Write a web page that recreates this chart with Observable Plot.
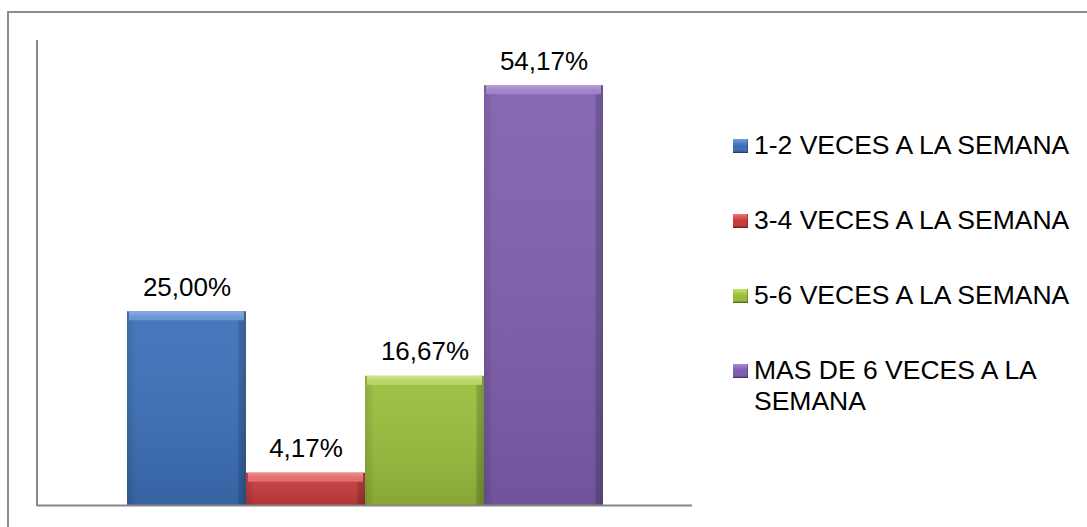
<!DOCTYPE html>
<html>
<head>
<meta charset="utf-8">
<script src="https://cdn.jsdelivr.net/npm/d3@7"></script>
<script src="https://cdn.jsdelivr.net/npm/@observablehq/plot@0.6"></script>
<style>
  html, body { margin: 0; padding: 0; background: #fff; overflow: hidden; }
  #wrap { position: relative; width: 1087px; height: 527px; font-family: "Liberation Sans", Arial, sans-serif; }
  #frame { position: absolute; left: 7px; top: 11px; width: 1200px; height: 700px; border: 2px solid #8c8c8c; box-sizing: border-box; }
  #chart { position: absolute; left: 0; top: 0; }
  #legend { position: absolute; left: 733px; top: 0; width: 350px; }
  .item { position: absolute; left: 0; display: flex; align-items: flex-start; }
  .sw { width: 15px; height: 14px; margin-right: 6px; flex: none; box-sizing: border-box; }
  .lab { font-size: 26.5px; line-height: 31px; color: #000; width: 330px; }
</style>
</head>
<body>
<div id="wrap">
  <div id="frame"></div>
  <div id="chart"></div>
  <div id="legend"></div>
</div>
<script>
const categories = ["1-2 VECES A LA SEMANA", "3-4 VECES A LA SEMANA", "5-6 VECES A LA SEMANA", "MAS DE 6 VECES A LA SEMANA"];
const values = [25.00, 4.17, 16.67, 54.17];
const labels = ["25,00%", "4,17%", "16,67%", "54,17%"];
const colors = ["#3c70b8", "#c63b3b", "#9bbd3c", "#7f5eae"];
const lightColors = ["#6f9fe0", "#f27272", "#c6e46e", "#a98bd3"];
const legendLines = [["1-2 VECES A LA SEMANA"], ["3-4 VECES A LA SEMANA"], ["5-6 VECES A LA SEMANA"], ["MAS DE 6 VECES A LA", "SEMANA"]];

const data = categories.map((c, i) => ({cat: c, value: values[i], label: labels[i], color: colors[i], light: lightColors[i], idx: i}));

const plot = Plot.plot({
  width: 1087,
  height: 527,
  marginLeft: 37,
  marginRight: 395,
  marginTop: 40,
  marginBottom: 22,
  style: {background: "transparent", fontFamily: "'Liberation Sans', Arial, sans-serif"},
  x: {domain: categories, paddingInner: 0, paddingOuter: 0.746, axis: null},
  y: {domain: [0, 60], axis: null},
  marks: [
    Plot.barY(data, {x: "cat", y: "value", fill: "color"}),
    Plot.barY(data, {x: "cat", y: "value", fill: "url(#shadeH)"}),
    Plot.barY(data, {x: "cat", y: "value", fill: "url(#shadeV)"}),
    Plot.barY(data, {x: "cat", y1: "value", y2: "value", insetBottom: -9, insetLeft: 2, insetRight: 2, fill: "light"}),
    Plot.barY(data, {x: "cat", y1: "value", y2: "value", insetBottom: -9, insetLeft: 2, insetRight: 2, fill: "url(#topV)"}),
    Plot.text(data, {x: "cat", y: "value", text: "label", lineAnchor: "bottom", dy: -16, fontSize: 26, fill: "#000"}),
    Plot.ruleY([0], {stroke: "#868686", strokeWidth: 2})
  ]
});

// defs for bevel shading
const svgns = "http://www.w3.org/2000/svg";
const defs = document.createElementNS(svgns, "defs");
defs.innerHTML = `
  <linearGradient id="shadeH" x1="0" y1="0" x2="1" y2="0">
    <stop offset="0" stop-color="#000" stop-opacity="0.12"/>
    <stop offset="0.06" stop-color="#000" stop-opacity="0.04"/>
    <stop offset="0.07" stop-color="#000" stop-opacity="0"/>
    <stop offset="0.93" stop-color="#000" stop-opacity="0"/>
    <stop offset="0.94" stop-color="#000" stop-opacity="0.15"/>
    <stop offset="1" stop-color="#000" stop-opacity="0.25"/>
  </linearGradient>
  <linearGradient id="shadeV" x1="0" y1="0" x2="0" y2="1">
    <stop offset="0" stop-color="#fff" stop-opacity="0.06"/>
    <stop offset="1" stop-color="#000" stop-opacity="0.12"/>
  </linearGradient>
  <linearGradient id="topV" x1="0" y1="0" x2="0" y2="1">
    <stop offset="0" stop-color="#fff" stop-opacity="0.2"/>
    <stop offset="1" stop-color="#000" stop-opacity="0.05"/>
  </linearGradient>`;
plot.insertBefore(defs, plot.firstChild);
document.getElementById("chart").appendChild(plot);

// y axis line at left edge of plot area, spanning the y scale's range
const ySc = plot.scale("y");
const g = document.createElementNS(svgns, "line");
g.setAttribute("x1", 37); g.setAttribute("x2", 37);
g.setAttribute("y1", ySc.range[1]); g.setAttribute("y2", ySc.range[0] + 1);
g.setAttribute("stroke", "#868686"); g.setAttribute("stroke-width", 2);
plot.appendChild(g);

// legend
const legend = document.getElementById("legend");
const rowTops = [130, 205, 280, 355];
legendLines.forEach((lines, i) => {
  const it = document.createElement("div");
  it.className = "item";
  it.style.top = rowTops[i] + "px";
  const sw = document.createElement("div");
  sw.className = "sw";
  sw.style.marginTop = "9px";
  sw.style.background = `linear-gradient(180deg, ${lightColors[i]} 0%, ${colors[i]} 45%, ${colors[i]} 80%, rgba(0,0,0,0.3) 100%), ${colors[i]}`;
  sw.style.boxShadow = "inset -1px -1px 0 rgba(0,0,0,0.25)";
  const lab = document.createElement("div");
  lab.className = "lab";
  lab.innerHTML = lines.join("<br>");
  it.appendChild(sw); it.appendChild(lab);
  legend.appendChild(it);
});
</script>
</body>
</html>
